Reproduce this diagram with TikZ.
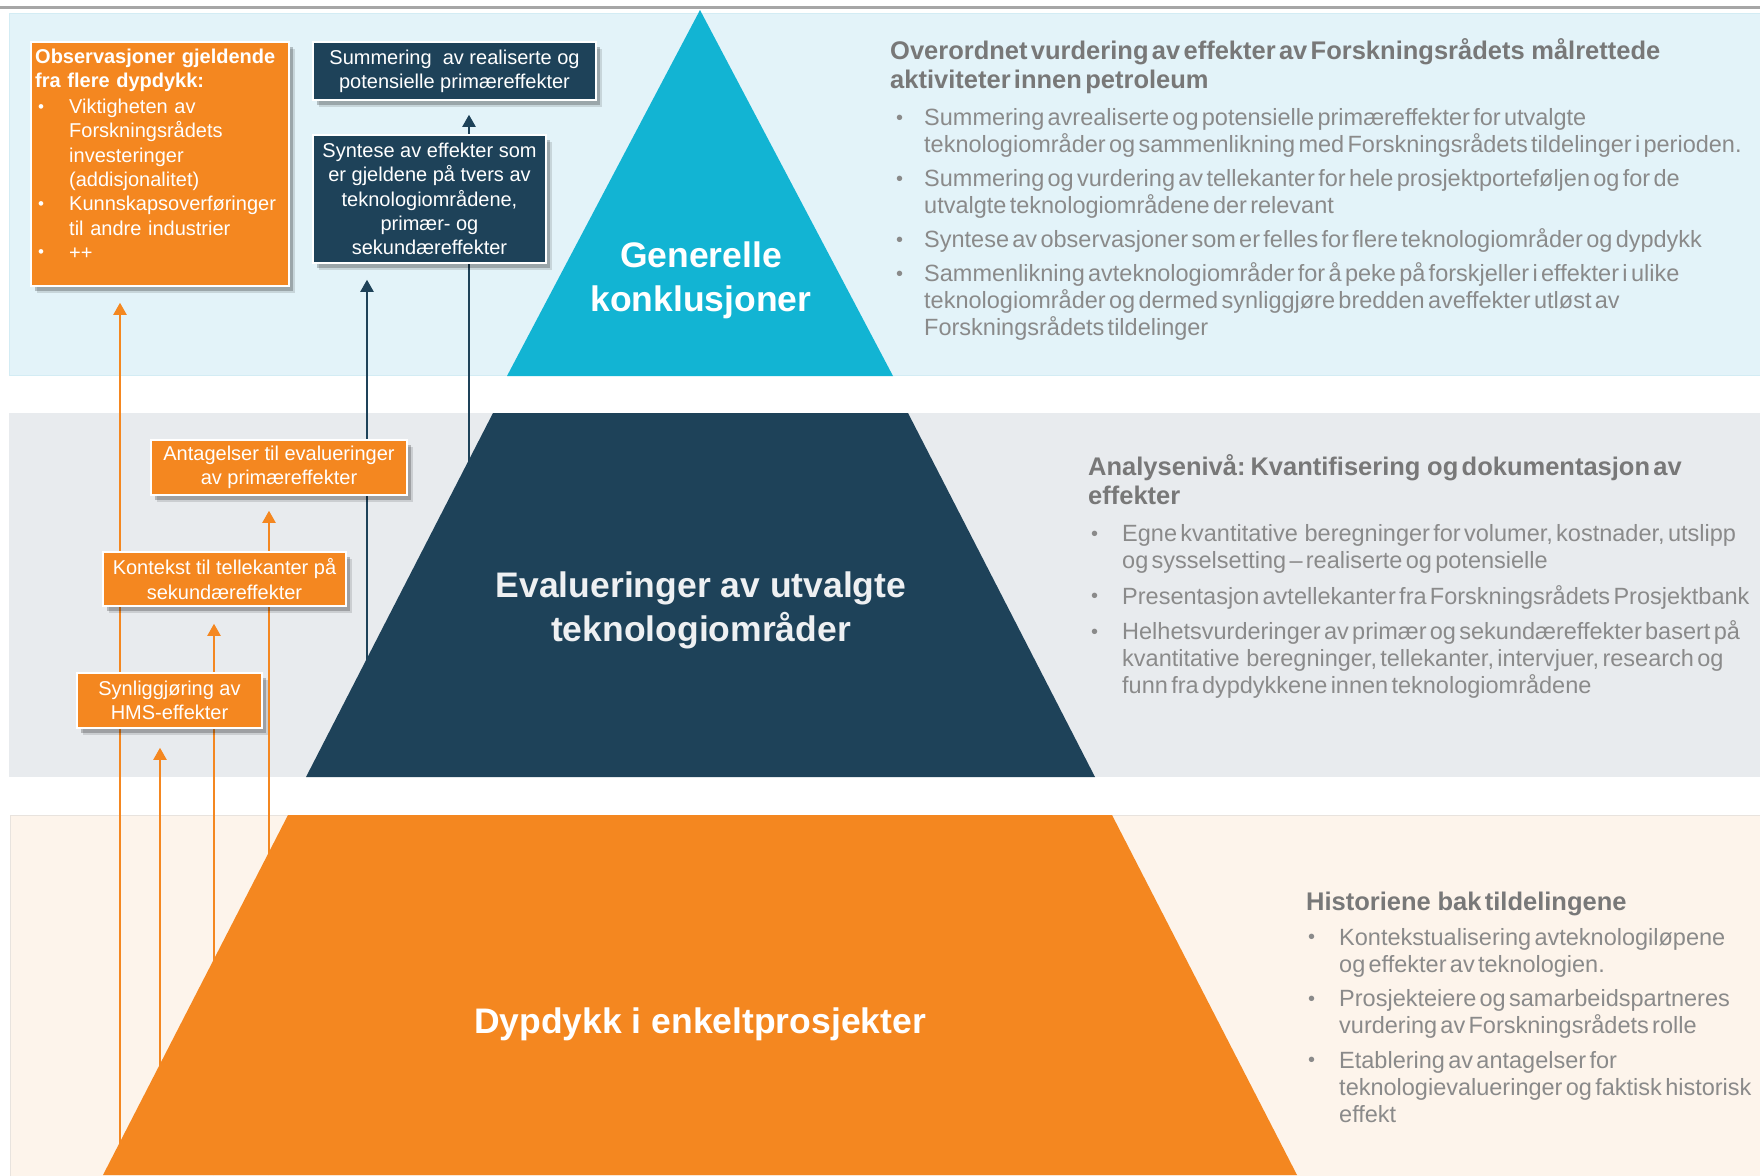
\documentclass[tikz,border=0pt]{standalone}
\usepackage{fontspec}
\setmainfont{Liberation Sans}
\usepackage{graphicx}
\usetikzlibrary{shadows,arrows.meta,calc}
\definecolor{cOrange}{HTML}{F48720}
\definecolor{cNavy}{HTML}{1E4259}
\definecolor{cCyan}{HTML}{12B4D3}
\definecolor{cBandBlue}{HTML}{E3F3F9}
\definecolor{cBandBlueEdge}{HTML}{D3ECF4}
\definecolor{cBandGray}{HTML}{E8EBEE}
\definecolor{cBandPeach}{HTML}{FDF4EB}
\definecolor{cBandPeachEdge}{HTML}{E8E3DE}
\definecolor{cTopLine}{HTML}{A6A6A6}
\definecolor{cHead}{HTML}{787878}
\definecolor{cBody}{HTML}{8A8A8A}
\definecolor{cLabel}{HTML}{EEF0F2}
\newcommand\myHead{\fontsize{25.5}{29.5}\selectfont\bfseries\color{cHead}}
\newcommand\myBody{\fontsize{23.5}{27}\selectfont\mdseries\color{cBody}}
\newcommand\myBul{\raisebox{1.5pt}{\scalebox{0.85}{\textbullet}}}
\newcommand\myBox{\fontsize{20}{24.3}\selectfont}
\newcommand\myItem[2]{\par\noindent\llap{\makebox[#1][l]{\hspace{#2}\myBul}}\ignorespaces}
\pgfdeclarelayer{fg}
\pgfsetlayers{main,fg}
\tikzset{
  obox/.style={fill=cOrange, draw=white, line width=1.5pt,
    drop shadow={shadow xshift=6pt, shadow yshift=-7pt, opacity=0.12, fill=black},
    drop shadow={shadow xshift=3.5pt, shadow yshift=-4.5pt, opacity=0.22, fill=black},
    text=white, align=center, inner sep=0pt, font=\myBox},
  nbox/.style={obox, fill=cNavy},
  oarrow/.style={draw=cOrange, line width=2pt, -{Triangle[width=13pt,length=12pt]}},
  narrow/.style={draw=cNavy, line width=2pt, -{Triangle[width=13pt,length=12pt]}},
  nline/.style={draw=cNavy, line width=2pt},
  biglabel/.style={text=white, align=center, inner sep=0pt, font=\fontsize{35.5}{43.5}\selectfont\bfseries},
  rblock/.style={anchor=base west, text width=1000pt, align=left, inner sep=0pt},
}
\begin{document}
\begin{tikzpicture}[x=1pt,y=-1pt]
\useasboundingbox (0,0) rectangle (1760,1175);
% background bands
\fill[white] (0,0) rectangle (1760,1175);
\draw[cTopLine, line width=2.5pt] (0,7.5) -- (1760,7.5);
\filldraw[fill=cBandBlue, draw=cBandBlueEdge, line width=1pt] (9,13) rectangle (1765,375);
\fill[cBandGray] (9,413) rectangle (1765,777);
\filldraw[fill=cBandPeach, draw=cBandPeachEdge, line width=1pt] (10,815) rectangle (1765,1180);

\begin{pgfonlayer}{fg}
% pyramid
\fill[cCyan] (700,10) -- (893,376) -- (507,376) -- cycle;
\fill[cNavy] (493,413) -- (908,413) -- (1095,777) -- (306,777) -- cycle;
\fill[cOrange] (288,815) -- (1112,815) -- (1297,1175) -- (103,1175) -- cycle;

\node[biglabel, anchor=north] (gen) at (701,242) {Generelle\\konklusjoner};
\node[biglabel, anchor=north, text=cLabel] (eval) at (701,572) {Evalueringer av utvalgte\\teknologiområder};
\node[biglabel, anchor=base] (dyp) at (700,1033) {Dypdykk i enkeltprosjekter};

% boxes
\node[obox, minimum width=258pt, minimum height=244pt] (obs) at (160,164) {};
\node[anchor=base west, text width=260pt, align=left, inner sep=0pt, text=white, font=\myBox] (obstext) at (35,63)
 {{\bfseries Observasjoner gjeldende\\fra flere dypdykk:\par}\vskip2pt\leftskip=34pt
  \myItem{34pt}{3pt}Viktigheten av\\Forskningsrådets\\investeringer\\(addisjonalitet)
  \myItem{34pt}{3pt}Kunnskapsoverføringer\\til andre industrier
  \myItem{34pt}{3pt}++\par};
\node[nbox, minimum width=283pt, minimum height=58pt] (summ) at (454.5,71) {Summering\ \ av realiserte og\\potensielle primæreffekter};
\node[nbox, minimum width=233pt, minimum height=128pt] (synt) at (429.5,199) {Syntese av effekter som\\er gjeldene\ på tvers av\\teknologiområdene,\\primær- og\\sekundæreffekter};
\node[obox, minimum width=256pt, minimum height=55pt] (ant) at (279,467.5) {Antagelser til evalueringer\\av primæreffekter};
\node[obox, minimum width=243pt, minimum height=54pt] (kon) at (224.5,579) {Kontekst til tellekanter\ på\\sekundæreffekter};
\node[obox, minimum width=185pt, minimum height=55pt] (syn) at (169.5,700.5) {Synliggjøring\ av\\HMS-effekter};

% right text blocks
\node[rblock] (r1) at (890,59)
 {{\myHead Overordnet vurdering av effekter av Forskningsrådets\ \ målrettede\\aktiviteter innen petroleum\par}
  \vskip10pt\myBody\leftskip=34pt
  \myItem{34pt}{6pt}Summering avrealiserte og potensielle primæreffekter for utvalgte\\teknologiområder og sammenlikning med Forskningsrådets tildelinger i perioden.
  \par\vskip7pt
  \myItem{34pt}{6pt}Summering og vurdering av tellekanter for hele prosjektporteføljen og for de\\utvalgte teknologiområdene der relevant
  \par\vskip7pt
  \myItem{34pt}{6pt}Syntese av observasjoner som er felles for flere teknologiområder og dypdykk
  \par\vskip7pt
  \myItem{34pt}{6pt}Sammenlikning avteknologiområder for å peke på forskjeller i effekter i ulike\\teknologiområder og dermed synliggjøre bredden aveffekter utløst av\\Forskningsrådets tildelinger\par};
\node[rblock] (r2) at (1088,475)
 {{\myHead Analysenivå: Kvantifisering\ \ og dokumentasjon av\\effekter\par}
  \vskip10pt\myBody\leftskip=34pt
  \myItem{34pt}{3pt}Egne kvantitative\ \ beregninger for volumer, kostnader, utslipp\\og sysselsetting – realiserte og potensielle
  \par\vskip8.5pt
  \myItem{34pt}{3pt}Presentasjon avtellekanter fra Forskningsrådets Prosjektbank
  \par\vskip8.5pt
  \myItem{34pt}{3pt}Helhetsvurderinger av primær og sekundæreffekter basert på\\kvantitative\ \ beregninger, tellekanter, intervjuer, research og\\funn fra dypdykkene innen teknologiområdene\par};
\node[rblock] (r3) at (1306,910)
 {{\myHead Historiene\ \ bak tildelingene\par}
  \vskip8pt\myBody\leftskip=33pt
  \myItem{33pt}{2pt}Kontekstualisering avteknologiløpene\\og effekter av teknologien.
  \par\vskip7.5pt
  \myItem{33pt}{2pt}Prosjekteiere og samarbeidspartneres\\vurdering av Forskningsrådets rolle
  \par\vskip7.5pt
  \myItem{33pt}{2pt}Etablering av antagelser for\\teknologievalueringer og faktisk historisk\\effekt\par};
\end{pgfonlayer}

% connectors (main layer: above bands, below pyramid and boxes)
\coordinate (o1) at (120,1175);
\coordinate (o2) at (160,1175);
\coordinate (o3) at (214,1175);
\coordinate (o4) at (269,1175);
\coordinate (n1) at (367,700);
\coordinate (n2) at (469,500);
\draw[oarrow, shorten >=16pt] (o1) -- (o1 |- obs.south);
\draw[oarrow, shorten >=19pt] (o2) -- (o2 |- syn.south);
\draw[oarrow, shorten >=17pt] (o3) -- (o3 |- kon.south);
\draw[oarrow, shorten >=15pt] (o4) -- (o4 |- ant.south);
\draw[narrow, shorten >=16pt] (n1) -- (n1 |- synt.south);
\draw[nline] (n2) -- (n2 |- synt.south);
\draw[narrow, shorten >=14pt] (n2 |- synt.north) -- (n2 |- summ.south);
\end{tikzpicture}
\end{document}
